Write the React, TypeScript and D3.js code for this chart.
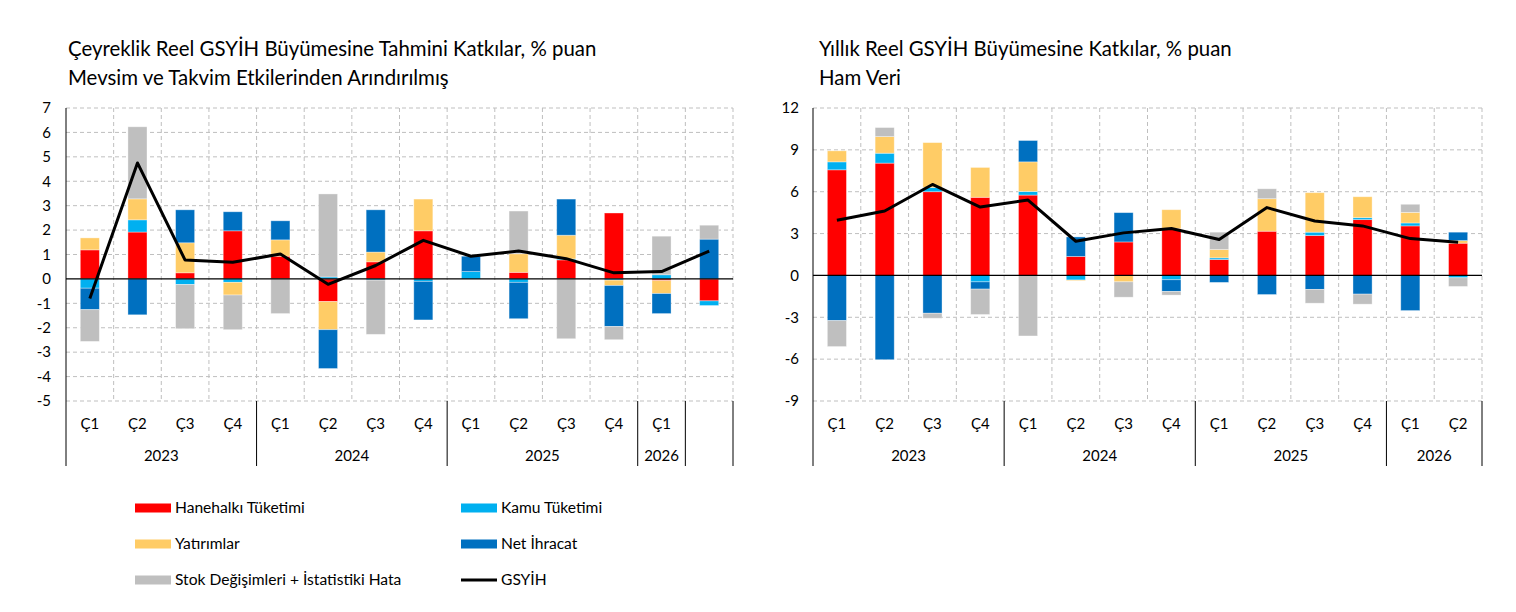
import React from 'react';
import * as d3 from 'd3';

const FONT = 'Lato, "Noto Sans", sans-serif';

const seriesKeys = ['hh', 'kamu', 'yat', 'net', 'stok'];
const seriesNames: Record<string, string> = {
  hh: 'Hanehalkı Tüketimi',
  kamu: 'Kamu Tüketimi',
  yat: 'Yatırımlar',
  net: 'Net İhracat',
  stok: 'Stok Değişimleri + İstatistiki Hata',
};
const colors: Record<string, string> = {
  hh: '#ff0000',
  kamu: '#00b0f0',
  yat: '#ffcc66',
  net: '#0070c0',
  stok: '#bfbfbf',
};

// quarterly (seasonally & calendar adjusted)
const qQuarters = ['Ç1', 'Ç2', 'Ç3', 'Ç4', 'Ç1', 'Ç2', 'Ç3', 'Ç4', 'Ç1', 'Ç2', 'Ç3', 'Ç4', 'Ç1', ''];
const qYears = [
  { label: '2023', n: 4 },
  { label: '2024', n: 4 },
  { label: '2025', n: 4 },
  { label: '2026', n: 1 },
  { label: '', n: 1 },
];
const qHh = [1.19, 1.92, 0.25, 1.97, 0.93, -0.93, 0.7, 1.97, 0.0, 0.27, 0.78, 2.7, -0.07, -0.9];
const qKamu = [-0.38, 0.5, -0.23, -0.14, 0.0, 0.08, -0.05, -0.1, 0.3, -0.14, 0.04, -0.05, 0.17, -0.19];
const qYat = [0.49, 0.86, 1.23, -0.52, 0.67, -1.15, 0.4, 1.3, 0.0, 0.76, 0.97, -0.22, -0.53, 0.0];
const qNet = [-0.88, -1.47, 1.35, 0.78, 0.78, -1.59, 1.73, -1.58, 0.63, -1.49, 1.48, -1.68, -0.82, 1.63];
const qStok = [-1.3, 2.95, -1.81, -1.42, -1.42, 3.4, -2.22, 0.0, 0.0, 1.75, -2.45, -0.54, 1.58, 0.57];
const qGdp = [-0.8, 4.75, 0.77, 0.68, 1.02, -0.22, 0.55, 1.58, 0.93, 1.14, 0.83, 0.25, 0.3, 1.14];
const qTicks = [7, 6, 5, 4, 3, 2, 1, 0, -1, -2, -3, -4, -5];

// annual (raw data)
const aQuarters = ['Ç1', 'Ç2', 'Ç3', 'Ç4', 'Ç1', 'Ç2', 'Ç3', 'Ç4', 'Ç1', 'Ç2', 'Ç3', 'Ç4', 'Ç1', 'Ç2'];
const aYears = [
  { label: '2023', n: 4 },
  { label: '2024', n: 4 },
  { label: '2025', n: 4 },
  { label: '2026', n: 2 },
];
const aHh = [7.57, 8.05, 6.0, 5.6, 5.76, 1.36, 2.4, 3.36, 1.14, 3.17, 2.86, 4.0, 3.55, 2.31];
const aKamu = [0.57, 0.71, 0.3, -0.46, 0.26, -0.33, 0.0, -0.31, 0.12, 0.0, 0.24, 0.14, 0.21, -0.17];
const aYat = [0.79, 1.19, 3.22, 2.14, 2.12, -0.05, -0.46, 1.35, 0.6, 2.33, 2.83, 1.5, 0.76, 0.19];
const aNet = [-3.24, -6.04, -2.71, -0.52, 1.53, 1.4, 2.1, -0.84, -0.5, -1.37, -1.0, -1.34, -2.52, 0.6];
const aStok = [-1.86, 0.65, -0.36, -1.82, -4.34, 0.0, -1.1, -0.26, 1.24, 0.71, -0.99, -0.72, 0.58, -0.62];
const aGdp = [3.95, 4.62, 6.52, 4.9, 5.4, 2.45, 3.05, 3.36, 2.57, 4.86, 3.9, 3.55, 2.64, 2.38];
const aTicks = [12, 9, 6, 3, 0, -3, -6, -9];

interface PanelProps {
  x0: number;
  x1: number;
  labelX: number;
  titleX: number;
  title: string[];
  quarters: string[];
  years: { label: string; n: number }[];
  series: Record<string, number[]>;
  gdp: number[];
  ticks: number[];
}

const TOP = 108;
const BOTTOM = 401;
const AXIS_END = 466;

const Panel: React.FC<PanelProps> = ({ x0, x1, labelX, titleX, title, quarters, years, series, gdp, ticks }) => {
  const idx = quarters.map((_, i) => String(i));
  const x = d3.scaleBand<string>().domain(idx).range([x0, x1]).paddingInner(0.6).paddingOuter(0.3);
  const y = d3.scaleLinear().domain([d3.min(ticks)!, d3.max(ticks)!]).range([BOTTOM, TOP]);
  const step = x.step();

  const rows = idx.map((k, i) => {
    const r: any = { k };
    seriesKeys.forEach((s) => (r[s] = series[s][i]));
    return r;
  });
  const stacked = d3.stack<any>().keys(seriesKeys).offset(d3.stackOffsetDiverging)(rows);

  const line = d3
    .line<number>()
    .x((_, i) => x(String(i))! + x.bandwidth() / 2)
    .y((d) => y(d));

  // year group boundaries
  const bounds: number[] = [0];
  years.forEach((g) => bounds.push(bounds[bounds.length - 1] + g.n));

  return (
    <g>
      {title.map((t, i) => (
        <text key={i} x={titleX} y={56 + i * 29} fontSize={20.4} fill="#000" fontFamily={FONT}>
          {t}
        </text>
      ))}
      {/* grid */}
      {ticks.map((t) =>
        t === 0 ? null : (
          <line key={'h' + t} x1={x0} x2={x1} y1={y(t)} y2={y(t)} stroke="#bfbfbf" strokeDasharray="4,3" />
        )
      )}
      {d3.range(1, quarters.length + 1).map((i) => (
        <line key={'v' + i} x1={x0 + i * step} x2={x0 + i * step} y1={TOP} y2={BOTTOM} stroke="#bfbfbf" strokeDasharray="4,3" />
      ))}
      {/* bars */}
      {stacked.map((layer) => (
        <g key={layer.key} fill={colors[layer.key]}>
          {layer.map((d, i) =>
            d[1] - d[0] === 0 ? null : (
              <rect
                key={i}
                x={x(String(i))}
                width={x.bandwidth()}
                y={y(Math.max(d[0], d[1]))}
                height={Math.abs(y(d[0]) - y(d[1]))}
                stroke="#ffffff"
                strokeOpacity={0.45}
                strokeWidth={0.8}
              />
            )
          )}
        </g>
      ))}
      {/* zero line and axis */}
      <line x1={x0} x2={x1} y1={y(0)} y2={y(0)} stroke="#000" strokeWidth={1.2} />
      <line x1={x0} x2={x0} y1={TOP} y2={AXIS_END} stroke="#000" strokeWidth={1} />
      {bounds.slice(1).map((b) => (
        <line key={'b' + b} x1={x0 + b * step} x2={x0 + b * step} y1={BOTTOM} y2={AXIS_END} stroke="#000" strokeWidth={1} />
      ))}
      {/* gdp */}
      <path d={line(gdp)!} fill="none" stroke="#000" strokeWidth={3} strokeLinejoin="round" />
      {/* y tick labels */}
      {ticks.map((t) => (
        <text key={'t' + t} x={labelX} y={y(t)} dy="0.35em" textAnchor="end" fontSize={15} fontFamily={FONT} fill="#000">
          {t}
        </text>
      ))}
      {/* quarter labels */}
      {quarters.map((q, i) => (
        <text key={'q' + i} x={x(String(i))! + x.bandwidth() / 2} y={429} textAnchor="middle" fontSize={15} fontFamily={FONT} fill="#000">
          {q}
        </text>
      ))}
      {years.map((g, i) => (
        <text
          key={'y' + i}
          x={x0 + ((bounds[i] + bounds[i + 1]) / 2) * step}
          y={461}
          textAnchor="middle"
          fontSize={15}
          fontFamily={FONT}
          fill="#000"
        >
          {g.label}
        </text>
      ))}
    </g>
  );
};

const legendItems = [
  { key: 'hh', col: 0, row: 0 },
  { key: 'kamu', col: 1, row: 0 },
  { key: 'yat', col: 0, row: 1 },
  { key: 'net', col: 1, row: 1 },
  { key: 'stok', col: 0, row: 2 },
  { key: 'gdp', col: 1, row: 2 },
];

const App: React.FC = () => {
  return (
    <svg width={1516} height={612} style={{ position: 'absolute', left: 0, top: 0, background: '#fff' }}>
      <rect width={1516} height={612} fill="#fff" />
      <Panel
        x0={66}
        x1={733}
        labelX={51}
        titleX={68}
        title={['Çeyreklik Reel GSYİH Büyümesine Tahmini Katkılar, % puan', 'Mevsim ve Takvim Etkilerinden Arındırılmış']}
        quarters={qQuarters}
        years={qYears}
        series={{ hh: qHh, kamu: qKamu, yat: qYat, net: qNet, stok: qStok }}
        gdp={qGdp}
        ticks={qTicks}
      />
      <Panel
        x0={813}
        x1={1482}
        labelX={799}
        titleX={819}
        title={['Yıllık Reel GSYİH Büyümesine Katkılar, % puan', 'Ham Veri']}
        quarters={aQuarters}
        years={aYears}
        series={{ hh: aHh, kamu: aKamu, yat: aYat, net: aNet, stok: aStok }}
        gdp={aGdp}
        ticks={aTicks}
      />
      {legendItems.map((it) => {
        const lx = it.col === 0 ? 135 : 461;
        const ly = 508 + it.row * 36;
        return (
          <g key={it.key}>
            {it.key === 'gdp' ? (
              <line x1={lx} x2={lx + 36} y1={ly} y2={ly} stroke="#000" strokeWidth={3} />
            ) : (
              <rect x={lx} y={ly - 4.5} width={36} height={9} fill={colors[it.key]} />
            )}
            <text x={lx + 40} y={ly} dy="0.35em" fontSize={15.6} fontFamily={FONT} fill="#000">
              {it.key === 'gdp' ? 'GSYİH' : seriesNames[it.key]}
            </text>
          </g>
        );
      })}
    </svg>
  );
};

export default App;
